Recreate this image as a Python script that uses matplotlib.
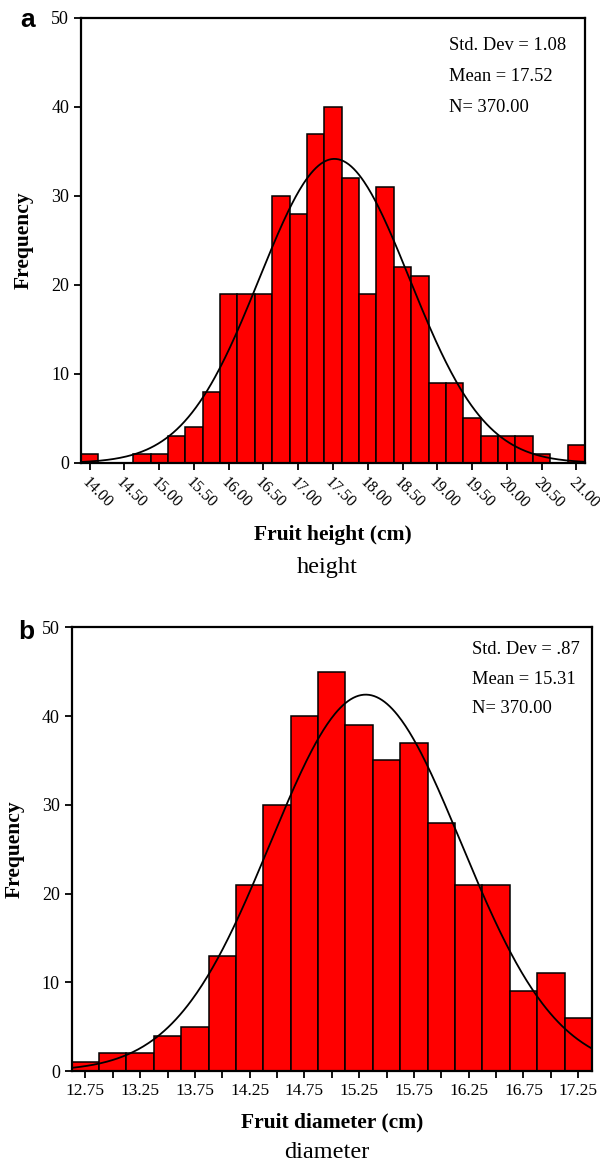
import matplotlib.pyplot as plt
import numpy as np

plt.rcParams["font.family"] = ["Liberation Serif", "DejaVu Serif"]

# panel a: fruit height, bin centres every 0.25 cm
height_centers = np.arange(29) * 0.25 + 14.00
height_counts = [1, 0, 0, 1, 1, 3, 4, 8, 19, 19, 19, 30, 28, 37, 40, 32,
                 19, 31, 22, 21, 9, 9, 5, 3, 3, 3, 1, 0, 2]
height_ticks = [14.00, 14.50, 15.00, 15.50, 16.00, 16.50, 17.00, 17.50,
                18.00, 18.50, 19.00, 19.50, 20.00, 20.50, 21.00]
height_stats = {"sd": 1.08, "mean": 17.52, "n": 370}

# panel b: fruit diameter
diam_centers = np.arange(19) * 0.25 + 12.75
diam_counts = [1, 2, 2, 4, 5, 13, 21, 30, 40, 45, 39, 35, 37, 28, 21, 21,
               9, 11, 6]
diam_ticks = [12.75, 13.25, 13.75, 14.25, 14.75, 15.25, 15.75, 16.25,
              16.75, 17.25]
diam_stats = {"sd": 0.87, "mean": 15.31, "n": 370}
diam_sd_text = ".87"

BIN_W = 0.25
STAT_SIZE = 13.3


def normal_curve(ax, stats, x0, x1):
    x = np.linspace(x0, x1, 400)
    y = stats["n"] * BIN_W / (stats["sd"] * np.sqrt(2 * np.pi)) * np.exp(
        -0.5 * ((x - stats["mean"]) / stats["sd"]) ** 2
    )
    ax.plot(x, y, color="black", linewidth=1.3)


def style_axes(ax, ylab_x):
    for side in ["top", "right", "left", "bottom"]:
        ax.spines[side].set_linewidth(1.6)
    ax.tick_params(axis="both", direction="out", length=5, width=1.3,
                   labelsize=13, top=False, right=False)
    ax.set_ylim(0, 50)
    ax.set_yticks([0, 10, 20, 30, 40, 50])
    ax.set_ylabel("Frequency", fontsize=15.5, fontweight="bold")
    ax.yaxis.label.set_va("center")
    ax.yaxis.set_label_coords(ylab_x, 0.5)


def stats_block(ax, x, ys, lines):
    for y, s in zip(ys, lines):
        ax.text(x, y, s, transform=ax.transAxes, fontsize=STAT_SIZE,
                va="center")


fig = plt.figure(figsize=(6, 11.68), dpi=100)

# ---- panel a ----
ax1 = fig.add_axes([0.135, 0.6036, 0.84, 0.381])
ax1.bar(height_centers, height_counts, width=BIN_W, color="#ff0000",
        edgecolor="black", linewidth=1.1)
x0, x1 = height_centers[0] - BIN_W / 2, height_centers[-1] + BIN_W / 2
normal_curve(ax1, height_stats, x0, x1)
ax1.set_xlim(x0, x1)
style_axes(ax1, -0.113)
ax1.set_xticks(height_ticks)
ax1.set_xticklabels([f"{t:.2f}" for t in height_ticks], rotation=-45,
                    ha="left", va="top", rotation_mode="anchor", fontsize=11.5)
ax1.tick_params(axis="x", pad=3)
ax1.set_xlabel("Fruit height (cm)", fontsize=15.5, fontweight="bold")
ax1.xaxis.label.set_va("center")
ax1.xaxis.set_label_coords(0.5, -0.162)
stats_block(ax1, 0.730, [0.938, 0.868, 0.798],
            [f"Std. Dev = {height_stats['sd']:.2f}",
             f"Mean = {height_stats['mean']:.2f}",
             f"N= {height_stats['n']:.2f}"])
fig.text(327 / 600, 1 - 568 / 1168, "height", ha="center", va="center",
         fontsize=17.5)
fig.text(0.033, 1 - 20 / 1168, "a", ha="left", va="center", fontsize=19,
         fontweight="bold", family="Liberation Sans")

# ---- panel b ----
ax2 = fig.add_axes([0.1195, 0.083, 0.867, 0.3799])
ax2.bar(diam_centers, diam_counts, width=BIN_W, color="#ff0000",
        edgecolor="black", linewidth=1.1)
x0, x1 = diam_centers[0] - BIN_W / 2, diam_centers[-1] + BIN_W / 2
normal_curve(ax2, diam_stats, x0, x1)
ax2.set_xlim(x0, x1)
style_axes(ax2, -0.109)
ax2.set_xticks(diam_centers, minor=True)
ax2.set_xticks(diam_ticks)
ax2.set_xticklabels([f"{t:.2f}" for t in diam_ticks], fontsize=12.5)
ax2.tick_params(axis="x", which="minor", direction="out", length=5,
                width=1.3)
ax2.set_xlabel("Fruit diameter (cm)", fontsize=15.5, fontweight="bold")
ax2.xaxis.label.set_va("center")
ax2.xaxis.set_label_coords(0.5, -0.116)
stats_block(ax2, 0.769, [0.951, 0.883, 0.816],
            [f"Std. Dev = {diam_sd_text}",
             f"Mean = {diam_stats['mean']:.2f}",
             f"N= {diam_stats['n']:.2f}"])
fig.text(327 / 600, 1 - 1153 / 1168, "diameter", ha="center", va="center",
         fontsize=17.5)
fig.text(0.03, 1 - 632 / 1168, "b", ha="left", va="center", fontsize=19,
         fontweight="bold", family="Liberation Sans")

fig.savefig("out.png", dpi=100)
